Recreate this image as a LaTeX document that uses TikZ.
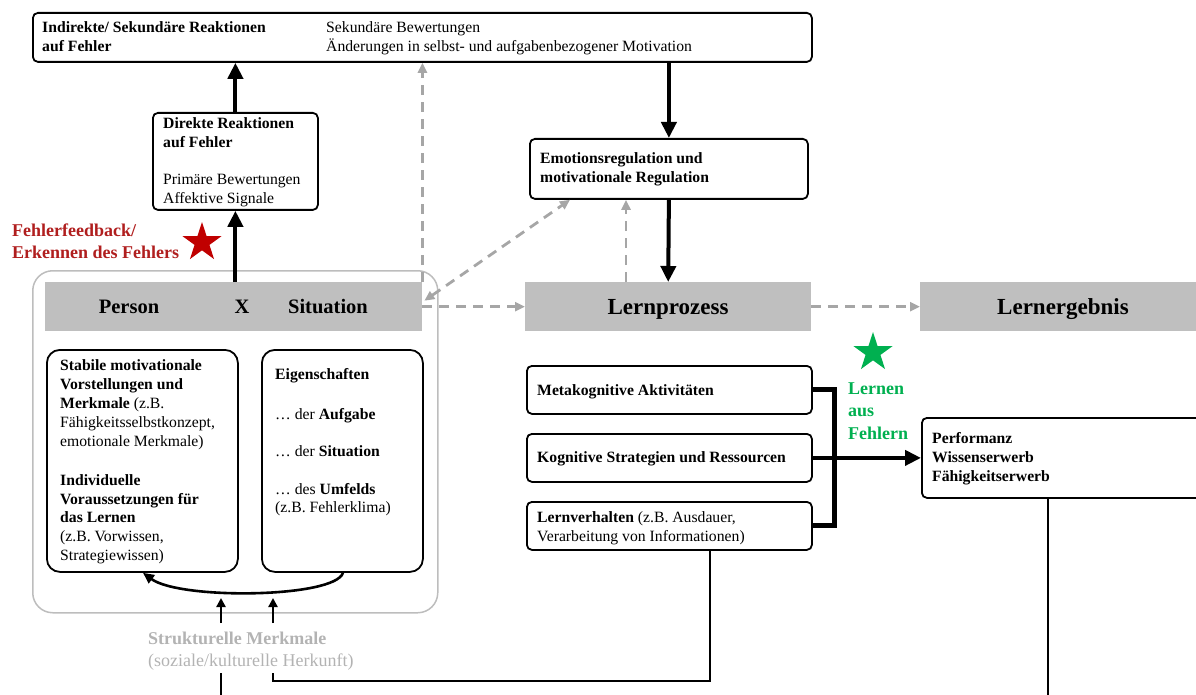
\documentclass[tikz,border=0pt]{standalone}
\usepackage{fontspec}
\setmainfont{Liberation Serif}
\usetikzlibrary{arrows.meta,shapes.geometric,calc}
\definecolor{bandgray}{HTML}{BFBFBF}
\definecolor{dashgray}{HTML}{A6A6A6}
\definecolor{outergray}{HTML}{BDBDBD}
\definecolor{errred}{HTML}{B01E1E}
\definecolor{starred}{HTML}{C00000}
\definecolor{learngreen}{HTML}{00B050}
\definecolor{structgray}{HTML}{B3B3B3}
\tikzset{
  box/.style={draw, line width=1.8pt, rounded corners=5pt, inner sep=0pt, anchor=north west},
  bigbox/.style={box, rounded corners=13pt},
  band/.style={fill=bandgray, inner sep=0pt, anchor=north west},
  txt/.style={inner sep=0pt, anchor=base west, align=left, font=\fontsize{15.7}{18.8}\selectfont},
  bandtxt/.style={inner sep=0pt, anchor=base, font=\fontsize{20.5}{24}\selectfont\bfseries},
  bigtxt/.style={inner sep=0pt, anchor=base, font=\fontsize{23}{27}\selectfont\bfseries},
  thickarrow/.style={line width=4pt, -{Triangle[length=16pt,width=15pt]}},
  bracketline/.style={line width=5pt},
  dasharrow/.style={dashgray, line width=2.8pt, dash pattern=on 10pt off 7pt, -{Triangle[length=10pt,width=9pt]}},
  conn/.style={line width=2.6pt},
  smallarrow/.style={line width=2.6pt, -{Triangle[length=9pt,width=9pt]}},
  starshape/.style={star, star points=5, star point ratio=2.618, inner sep=0pt, minimum size=41pt, draw=none},
}
\begin{document}
\begin{tikzpicture}[x=1pt,y=-1pt]
\useasboundingbox (0,0) rectangle (1196,695);

% ---------- boxes ----------
\node[box, minimum width=779pt, minimum height=49pt] (top) at (32,12) {};
\node[box, minimum width=165pt, minimum height=97pt] (direkte) at (152,112) {};
\node[box, minimum width=278pt, minimum height=60pt] (emo) at (529,138) {};
\node[draw=outergray, line width=1.5pt, rounded corners=20pt, inner sep=0pt, anchor=north west,
      minimum width=405pt, minimum height=342pt] (outer) at (32,270) {};
\node[band, minimum width=377pt, minimum height=49pt] (psband) at (45,282) {};
\node[band, minimum width=286pt, minimum height=49pt] (lp) at (525,282) {};
\node[band, minimum width=300pt, minimum height=49pt] (le) at (920,282) {};
\node[bigbox, minimum width=191pt, minimum height=222pt] (lbox) at (46,349) {};
\node[bigbox, minimum width=161pt, minimum height=222pt] (rbox) at (261,349) {};
\node[box, minimum width=285pt, minimum height=48pt] (meta) at (526,365) {};
\node[box, minimum width=285pt, minimum height=48pt] (kog) at (526,433) {};
\node[box, minimum width=285pt, minimum height=48pt] (lern) at (526,501) {};
\node[box, minimum width=300pt, minimum height=80pt] (perf) at (921,417) {};

% ---------- texts (multi-line nodes: base = last line's baseline) ----------
\node[txt] (topL) at (42,51.3) {\textbf{Indirekte/ Sekundäre Reaktionen}\\\textbf{auf Fehler}};
\node[txt] (topR) at (326,51.3) {Sekundäre Bewertungen\\Änderungen in selbst- und aufgabenbezogener Motivation};
\node[txt] (dirT) at (163,203.5) {\textbf{Direkte Reaktionen}\\\textbf{auf Fehler}\\[18.8pt]Primäre Bewertungen\\Affektive Signale};
\node[txt] (emoT) at (540,182.8) {\textbf{Emotionsregulation und}\\\textbf{motivationale Regulation}};
\node[txt, font=\fontsize{18}{22}\selectfont\bfseries, text=errred] (fehlT) at (12,258) {Fehlerfeedback/\\Erkennen des Fehlers};
\node[starshape, fill=starred] (redstar) at (202,242.5) {};

\node[bandtxt] (personT) at (129,313.5) {Person};
\node[bandtxt] (xT) at (242,313.5) {X};
\node[bandtxt] (sitT) at (328,313.5) {Situation};
\node[bigtxt] (lpT) at (668,314) {Lernprozess};
\node[bigtxt] (leT) at (1063,314) {Lernergebnis};

\node[txt] (lT1) at (60,446) {\textbf{Stabile motivationale}\\\textbf{Vorstellungen und}\\\textbf{Merkmale} (z.B.\\Fähigkeitsselbstkonzept,\\emotionale Merkmale)};
\node[txt] (lT2) at (60,560.5) {\textbf{Individuelle}\\\textbf{Voraussetzungen für}\\\textbf{das Lernen}\\(z.B. Vorwissen,\\Strategiewissen)};

\node[txt] (rE) at (275,379.5) {\textbf{Eigenschaften}};
\node[txt] (rA) at (275,419) {… der \textbf{Aufgabe}};
\node[txt] (rS) at (275,456) {… der \textbf{Situation}};
\node[txt] (rU) at (275,512.8) {… des \textbf{Umfelds}\\(z.B. Fehlerklima)};

\node[txt] (metaT) at (537,395) {\textbf{Metakognitive Aktivitäten}};
\node[txt] (kogT) at (537,462.5) {\textbf{Kognitive Strategien und Ressourcen}};
\node[txt] (lernT) at (537,541.3) {\textbf{Lernverhalten} (z.B. Ausdauer,\\Verarbeitung von Informationen)};
\node[txt, font=\fontsize{15.7}{19.3}\selectfont] (perfT) at (932,481.6) {\textbf{Performanz}\\\textbf{Wissenserwerb}\\\textbf{Fähigkeitserwerb}};

\node[starshape, fill=learngreen] (greenstar) at (873,352.5) {};
\node[txt, font=\fontsize{18}{22.5}\selectfont\bfseries, text=learngreen] (lernenT) at (848,439) {Lernen\\aus\\Fehlern};

\node[txt, font=\fontsize{18}{22}\selectfont, text=structgray] (structT) at (148,666) {\textbf{Strukturelle Merkmale}\\(soziale/kulturelle Herkunft)};

% ---------- coordinates ----------
\coordinate (lpup) at ($(lp.north west)+(101,0)$);
\coordinate (emoin) at ($(emo.south west)+(41,0)$);
\coordinate (psdiag) at ($(psband.east)+(2,-6)$);
\coordinate (curveS) at ($(rbox.south west)+(82,0)$);
\coordinate (curveE) at ($(lbox.south west)+(97,0)$);
\coordinate (s1) at (221,623);
\coordinate (s1e) at (221,598);
\coordinate (s2) at (273,623);
\coordinate (s2e) at (273,598);
\coordinate (lernlow) at ($(lern.south west)+(184,0)$);
\coordinate (corner) at (273,681);
\coordinate (s2low) at (273,673);
\coordinate (s1low) at (221,673);
\coordinate (s1bot) at (221,700);
\coordinate (perflow) at ($(perf.south west)+(127,0)$);

% ---------- connectors ----------
\draw[thickarrow] (direkte.south |- psband.north) -- (direkte.south);
\draw[thickarrow] (direkte.north) -- (direkte.north |- top.south);
\draw[thickarrow] (emo.north |- top.south) -- (emo.north);
\draw[thickarrow] (emo.south) -- (lp.north);

\draw[dasharrow] (psband.north east) -- (psband.north east |- top.south);
\draw[dasharrow] (lpup) -- (lpup |- emo.south);
\draw[dasharrow, {Triangle[length=10pt,width=9pt]}-{Triangle[length=10pt,width=9pt]}] (psdiag) -- (emoin);
\draw[dasharrow] (psband.east) -- (lp.west);
\draw[dasharrow] (lp.east) -- (le.west);

\draw[bracketline] (meta.east) -- ++(22,0) |- (lern.east);
\draw[thickarrow] (kog.east) -- (perf.west);

\draw[line width=2.6pt, -{Triangle[length=11pt,width=10pt]}] (curveS) .. controls (335,598) and (180,600) .. (curveE);
\draw[smallarrow] (s1) -- (s1e);
\draw[smallarrow] (s2) -- (s2e);

\draw[conn] (lernlow) |- (corner) -- (s2low);
\draw[conn] (s1low) -- (s1bot);
\draw[conn] (perflow) -- (perflow |- s1bot);
\end{tikzpicture}
\end{document}
